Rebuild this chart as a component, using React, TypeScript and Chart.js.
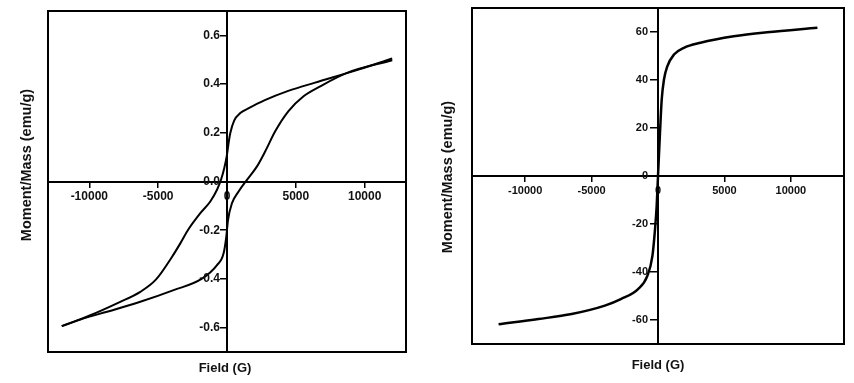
import { useEffect, useRef } from 'react';
import { Chart, registerables } from 'chart.js';

Chart.register(...registerables);

// ---- Left panel: hysteresis loop (Moment/Mass vs Field) ----
const leftUpperField = [-12000, -9927, -7988, -6296, -5150, -4000, -3391, -2800, -1939, -1213, -726, -436, -196, 0, 116, 240, 520, 966, 1550, 2750, 4450, 6400, 9200, 12000];
const leftUpperMoment = [-0.594, -0.549, -0.5, -0.453, -0.402, -0.31, -0.254, -0.196, -0.13, -0.082, -0.034, 0.007, 0.055, 0.11, 0.158, 0.199, 0.25, 0.281, 0.3, 0.334, 0.372, 0.406, 0.453, 0.505];
const leftLowerField = [-12000, -10414, -8715, -6296, -3878, -1850, -726, -247, -51, 73, 363, 842, 1452, 2179, 2780, 3500, 4450, 5560, 6776, 8715, 12000];
const leftLowerMoment = [-0.594, -0.562, -0.535, -0.494, -0.446, -0.4, -0.343, -0.295, -0.226, -0.158, -0.089, -0.041, 0.007, 0.062, 0.124, 0.206, 0.288, 0.35, 0.391, 0.446, 0.498];
const leftXTicks = [-10000, -5000, 0, 5000, 10000];
const leftYTicks = [-0.6, -0.4, -0.2, 0, 0.2, 0.4, 0.6];

// ---- Right panel: magnetization curve ----
const rightField = [-12000, -9000, -6500, -4000, -2800, -1500, -800, -420, -225, -100, 0, 150, 280, 450, 700, 1200, 1950, 3200, 5700, 8200, 12000];
const rightMoment = [-61.8, -59.6, -57.5, -54.0, -51.3, -47.1, -41.6, -33.3, -22.2, -12.5, 0, 18, 31.9, 40.2, 45.7, 50.6, 53.4, 55.5, 58.2, 59.9, 61.8];
const rightXTicks = [-10000, -5000, 0, 5000, 10000];
const rightYTicks = [-60, -40, -20, 0, 20, 40, 60];

const xTitle = 'Field (G)';
const yTitle = 'Moment/Mass (emu/g)';

const FONT = "'Liberation Sans', Arial, sans-serif";

function pts(xs: number[], ys: number[]) {
  return xs.map((x, i) => ({ x, y: ys[i] }));
}

type PanelCfg = {
  series: { x: number; y: number }[][];
  xMin: number; xMax: number; yMin: number; yMax: number;
  xTicks: number[]; yTicks: number[];
  yFmt: (v: number) => string;
  padding: { left: number; right: number; top: number; bottom: number };
  yTitlePos: [number, number];
  xTitlePos: [number, number];
  tickFont: number;
  lineWidth: number;
  yTickLen: number;
  yLabelPad: number;
};

function makeChart(canvas: HTMLCanvasElement, cfg: PanelCfg) {
  const framePlugin = {
    id: 'frameAndTitles',
    afterDraw(chart: any) {
      const { ctx, chartArea } = chart;
      const xs = chart.scales.x;
      const ys = chart.scales.y;
      ctx.save();
      // y tick labels, right-aligned to the left of the y axis
      ctx.fillStyle = '#111';
      ctx.font = `bold ${cfg.tickFont}px ${FONT}`;
      ctx.textAlign = 'right';
      ctx.textBaseline = 'middle';
      const ax = xs.getPixelForValue(0);
      for (const v of cfg.yTicks) {
        ctx.fillText(cfg.yFmt(v), ax - cfg.yTickLen - cfg.yLabelPad, ys.getPixelForValue(v));
      }
      // frame
      ctx.strokeStyle = '#000';
      ctx.lineWidth = 2;
      ctx.strokeRect(chartArea.left, chartArea.top, chartArea.right - chartArea.left, chartArea.bottom - chartArea.top);
      // axis titles
      ctx.textAlign = 'center';
      ctx.font = `bold 13px ${FONT}`;
      ctx.fillText(xTitle, cfg.xTitlePos[0], cfg.xTitlePos[1]);
      ctx.translate(cfg.yTitlePos[0], cfg.yTitlePos[1]);
      ctx.rotate(-Math.PI / 2);
      ctx.font = `bold 14.5px ${FONT}`;
      ctx.fillText(yTitle, 0, 0);
      ctx.restore();
    },
  };

  return new Chart(canvas, {
    type: 'scatter',
    data: {
      datasets: cfg.series.map((s) => ({
        data: s,
        showLine: true,
        borderColor: '#000',
        borderWidth: cfg.lineWidth,
        pointRadius: 0,
        cubicInterpolationMode: 'monotone' as const,
        fill: false,
      })),
    },
    options: {
      animation: false,
      responsive: false,
      layout: { padding: cfg.padding },
      plugins: { legend: { display: false }, tooltip: { enabled: false } },
      scales: {
        x: {
          type: 'linear',
          min: cfg.xMin,
          max: cfg.xMax,
          position: { y: 0 } as any,
          afterBuildTicks: (scale: any) => {
            scale.ticks = cfg.xTicks.map((v) => ({ value: v }));
          },
          ticks: {
            color: '#111',
            font: { family: FONT, size: cfg.tickFont, weight: 'bold' },
            padding: 3,
            maxRotation: 0,
            autoSkip: false,
            callback: (v: any) => String(v),
          },
          grid: { drawOnChartArea: false, drawTicks: true, tickLength: 5, color: '#000', lineWidth: 1.5 },
          border: { display: true, color: '#000', width: 2 },
        },
        y: {
          type: 'linear',
          min: cfg.yMin,
          max: cfg.yMax,
          position: { x: 0 } as any,
          afterBuildTicks: (scale: any) => {
            scale.ticks = cfg.yTicks.map((v) => ({ value: v }));
          },
          ticks: { display: false, autoSkip: false },
          grid: { drawOnChartArea: false, drawTicks: true, tickLength: cfg.yTickLen, color: '#000', lineWidth: 1.5 },
          border: { display: true, color: '#000', width: 2 },
        },
      },
    },
    plugins: [framePlugin],
  } as any);
}

export default function App() {
  const leftRef = useRef<HTMLCanvasElement>(null);
  const rightRef = useRef<HTMLCanvasElement>(null);

  useEffect(() => {
    const c1 = makeChart(leftRef.current!, {
      series: [pts(leftUpperField, leftUpperMoment), pts(leftLowerField, leftLowerMoment)],
      xMin: -13000, xMax: 13000, yMin: -0.7, yMax: 0.7,
      xTicks: leftXTicks, yTicks: leftYTicks,
      yFmt: (v) => v.toFixed(1),
      padding: { left: 48, right: 21, top: 11, bottom: 31 },
      yTitlePos: [27, 165],
      xTitlePos: [225, 368],
      tickFont: 12,
      lineWidth: 2,
      yTickLen: 6,
      yLabelPad: 1,
    });
    const c2 = makeChart(rightRef.current!, {
      series: [pts(rightField, rightMoment)],
      xMin: -14000, xMax: 14000, yMin: -70, yMax: 70,
      xTicks: rightXTicks, yTicks: rightYTicks,
      yFmt: (v) => String(Math.round(v)),
      padding: { left: 45, right: 10, top: 8, bottom: 39 },
      yTitlePos: [21, 177],
      xTitlePos: [231, 365],
      tickFont: 11,
      lineWidth: 2.5,
      yTickLen: 7,
      yLabelPad: 3,
    });
    return () => {
      c1.destroy();
      c2.destroy();
    };
  }, []);

  return (
    <div style={{ position: 'fixed', left: 0, top: 0, width: 854, height: 383, background: '#fff' }}>
      <canvas ref={leftRef} width={427} height={383} style={{ position: 'absolute', left: 0, top: 0, width: 427, height: 383 }} />
      <canvas ref={rightRef} width={427} height={383} style={{ position: 'absolute', left: 427, top: 0, width: 427, height: 383 }} />
    </div>
  );
}
